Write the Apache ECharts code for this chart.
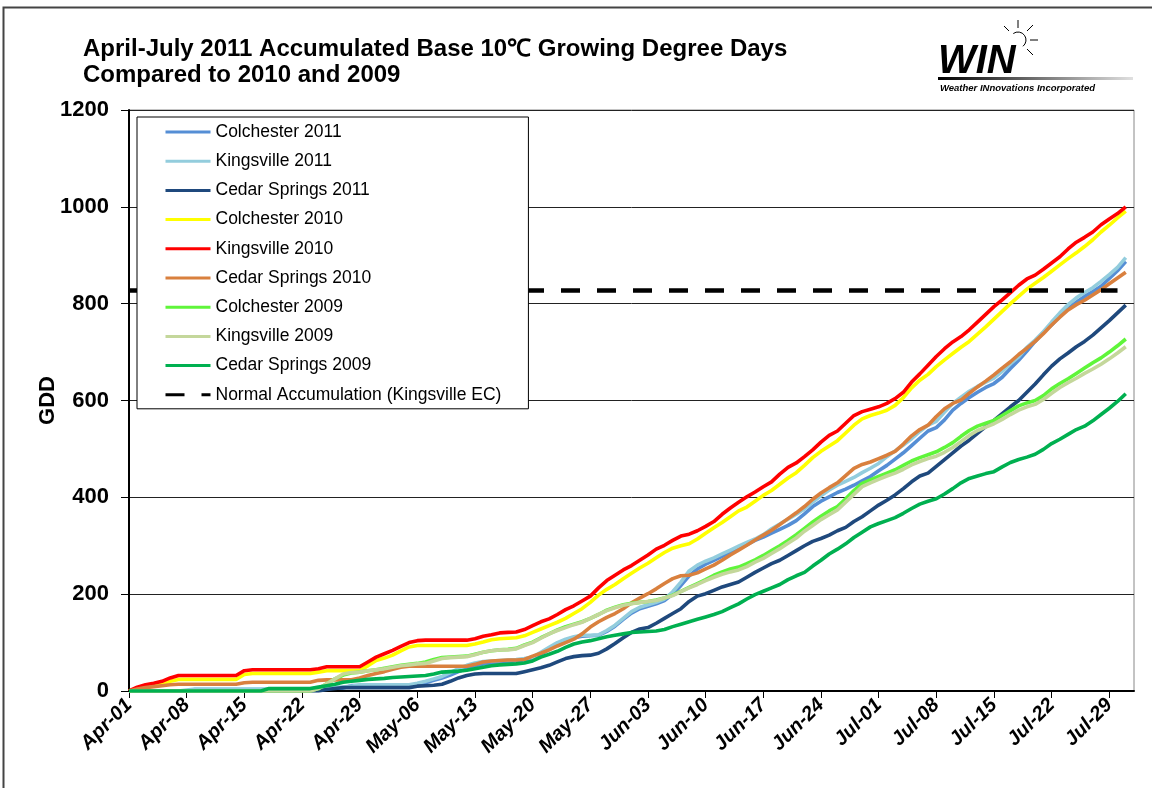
<!DOCTYPE html>
<html lang="en" style="height: 100%">
  <head>
    <meta charset="utf-8" />
    <title>GDD 2011</title>
  </head>
  <body style="height: 100%; margin: 0; background: #fff">
    <div id="container" style="width: 1152px; height: 788px"></div>

    <script
      type="text/javascript"
      src="https://fastly.jsdelivr.net/npm/echarts@6/dist/echarts.min.js"
    ></script>

    <script type="text/javascript">
      var dom = document.getElementById("container");
      var myChart = echarts.init(dom, null, { renderer: "canvas" });

      // x categories: Apr-01 .. Aug-01 (data runs to Jul-31)
      var months = [["Apr", 30], ["May", 31], ["Jun", 30], ["Jul", 31], ["Aug", 1]];
      var days = [];
      months.forEach(function (m) {
        for (var i = 1; i <= m[1]; i++) {
          days.push(m[0] + "-" + (i < 10 ? "0" + i : i));
        }
      });

      var colchester2011 = [
        0, 0, 0, 0, 0, 0, 0, 0, 3, 3,
        3, 3, 3, 3, 3, 3, 3, 3, 3, 3,
        3, 3, 3, 6, 6, 6, 6, 11, 11, 11,
        11, 11, 11, 11, 11, 14, 17, 22, 27, 33,
        40, 47, 52, 56, 58, 60, 61, 62, 64, 67,
        76, 86, 96, 104, 110, 113, 114, 115, 123, 134,
        148, 161, 170, 175, 180, 187, 200, 218, 238, 252,
        262, 270, 278, 287, 294, 302, 311, 318, 326, 334,
        342, 352, 366, 381, 392, 401, 410, 417, 425, 434,
        443, 455, 466, 479, 492, 507, 522, 537, 544, 560,
        580, 594, 606, 617, 627, 635, 648, 666, 683, 702,
        722, 741, 756, 774, 790, 803, 815, 825, 836, 852,
        868, 887
      ];
      var kingsville2011 = [
        0, 0, 0, 0, 0, 0, 0, 2, 4, 4,
        4, 4, 4, 4, 4, 4, 4, 4, 4, 4,
        4, 4, 4, 6, 8, 8, 8, 10, 13, 13,
        13, 13, 13, 13, 13, 16, 20, 25, 30, 38,
        46, 53, 58, 61, 62, 63, 64, 65, 67, 70,
        80, 90, 100, 107, 112, 115, 115, 116, 125, 136,
        150, 164, 173, 178, 183, 190, 205, 225, 248, 260,
        268, 275, 283, 291, 299, 307, 314, 323, 335, 345,
        355, 365, 376, 390, 403, 415, 425, 433, 441, 451,
        460, 470, 484, 496, 508, 521, 536, 549, 557, 576,
        594, 607, 619, 629, 638, 646, 660, 676, 690, 710,
        725, 742, 762, 781, 798, 812, 823, 833, 846, 860,
        875, 895
      ];
      var cedarSprings2011 = [
        0, 0, 0, 0, 0, 0, 0, 0, 0, 0,
        0, 0, 0, 0, 0, 0, 0, 0, 0, 0,
        0, 0, 0, 0, 3, 5, 7, 7, 7, 7,
        7, 7, 7, 7, 7, 10, 11, 12, 14, 20,
        27, 32, 35, 36, 36, 36, 36, 36, 40, 44,
        48, 53, 60, 67, 71, 73, 74, 78, 87, 98,
        110, 121, 128, 131, 140, 150, 160, 170, 185, 196,
        201, 208, 215, 220, 225, 235, 245, 254, 263, 270,
        280, 290, 300, 309, 315, 322, 331, 338, 350, 360,
        372, 384, 394, 405, 418, 432, 444, 450, 464, 478,
        492, 506, 518, 532, 546, 559, 573, 587, 600, 617,
        634, 653, 671, 686, 698, 711, 722, 735, 750, 765,
        781, 797
      ];
      var colchester2010 = [
        0, 4, 8, 11, 15, 20, 24, 24, 24, 24,
        24, 24, 24, 24, 34, 36, 36, 36, 36, 36,
        36, 36, 36, 39, 42, 42, 42, 42, 42, 52,
        63, 68, 74, 83, 91, 94, 94, 94, 94, 94,
        94, 94, 97, 101, 106, 108, 109, 110, 114, 121,
        128, 135, 142, 150, 160, 170, 183, 198, 210, 220,
        232, 243, 254, 264, 275, 286, 295, 300, 304, 314,
        326, 337, 348, 360, 372, 380, 392, 404, 414, 427,
        440, 451, 466, 482, 495, 506, 517, 533, 549, 562,
        569, 574, 580, 590, 606, 626, 642, 654, 670, 684,
        697, 710, 722, 737, 752, 768, 784, 800, 815, 830,
        842, 854, 867, 880, 893, 905, 918, 932, 948, 962,
        977, 991
      ];
      var kingsville2010 = [
        0, 8, 13, 16, 20, 27, 32, 32, 32, 32,
        32, 32, 32, 32, 42, 44, 44, 44, 44, 44,
        44, 44, 44, 46, 50, 50, 50, 50, 50, 60,
        70, 77, 84, 92, 100, 104, 105, 105, 105, 105,
        105, 105, 108, 113, 116, 120, 121, 122, 127, 135,
        143, 149, 158, 168, 176, 186, 196, 213, 228, 239,
        250, 259, 270, 281, 293, 301, 311, 320, 324, 331,
        340, 350, 365, 378, 390, 401, 411, 422, 432, 448,
        462, 471, 484, 498, 514, 528, 537, 553, 569, 577,
        582, 587, 594, 604, 617, 638, 655, 673, 691, 707,
        721, 732, 746, 762, 778, 794, 808, 823, 838, 851,
        859, 871, 884, 897, 913, 927, 937, 948, 963, 975,
        986, 1000
      ];
      var cedarSprings2010 = [
        0, 4, 7, 9, 11, 13, 14, 14, 14, 14,
        14, 14, 14, 14, 17, 18, 18, 18, 18, 18,
        18, 18, 18, 22, 23, 23, 23, 23, 27, 32,
        36, 40, 45, 49, 51, 51, 51, 51, 51, 51,
        51, 51, 55, 60, 62, 63, 64, 64, 65, 72,
        78, 85, 93, 100, 107, 118, 132, 143, 152, 160,
        170, 182, 192, 201, 211, 222, 232, 238, 239, 244,
        252, 260, 270, 281, 291, 301, 312, 322, 332, 344,
        356, 368, 381, 396, 409, 420, 430, 445, 460, 468,
        473, 480, 487, 495, 510, 527, 540, 549, 567, 583,
        594, 601, 615, 628, 640, 653, 667, 680, 695, 708,
        722, 738, 756, 772, 787, 798, 807, 818, 829, 841,
        853, 865
      ];
      var colchester2009 = [
        0, 0, 0, 0, 0, 0, 0, 0, 0, 0,
        0, 0, 0, 0, 0, 0, 0, 0, 0, 0,
        0, 0, 0, 5, 15, 25, 33, 37, 39, 42,
        44, 47, 50, 53, 55, 57, 60, 65, 69, 70,
        71, 72, 76, 80, 83, 85, 86, 88, 95, 101,
        110, 118, 126, 133, 138, 143, 150, 158, 167, 173,
        178, 181, 183, 185, 188, 192, 198, 206, 214, 222,
        230, 239, 246, 252, 256, 263, 271, 280, 290, 300,
        311, 323, 336, 349, 361, 372, 381, 397, 414, 429,
        436, 443, 450, 457, 466, 475, 482, 488, 494, 503,
        513, 526, 538, 547, 553, 559, 569, 579, 589, 595,
        600, 610, 624, 635, 645, 656, 667, 678, 688, 700,
        713, 727
      ];
      var kingsville2009 = [
        0, 0, 0, 0, 0, 0, 0, 0, 0, 0,
        0, 0, 0, 0, 0, 0, 0, 0, 0, 0,
        0, 0, 0, 5, 15, 25, 35, 38, 39, 42,
        44, 46, 49, 52, 54, 56, 57, 62, 67, 69,
        70, 71, 75, 80, 83, 85, 85, 87, 94, 100,
        109, 118, 125, 131, 137, 142, 150, 158, 166, 172,
        177, 180, 183, 185, 187, 192, 197, 205, 213, 220,
        228, 235, 241, 246, 250, 257, 266, 274, 284, 294,
        305, 316, 330, 342, 354, 364, 374, 390, 406, 422,
        430, 437, 444, 450, 458, 467, 474, 480, 485, 493,
        503, 515, 528, 538, 545, 552, 561, 571, 580, 587,
        592, 602, 615, 627, 637, 646, 656, 665, 675, 686,
        698, 711
      ];
      var cedarSprings2009 = [
        0, 0, 0, 0, 0, 0, 0, 0, 0, 0,
        0, 0, 0, 0, 0, 0, 0, 5, 5, 5,
        5, 5, 5, 8, 11, 14, 18, 20, 22, 24,
        25, 26, 28, 29, 30, 31, 32, 35, 39, 40,
        41, 43, 46, 49, 52, 54, 55, 56, 58, 62,
        70, 76, 82, 90, 97, 101, 104, 108, 112, 115,
        118, 121, 122, 123, 124, 127, 133, 138, 143, 148,
        153, 158, 164, 172, 180, 190, 199, 206, 213, 220,
        230, 238, 245, 258, 270, 283, 293, 304, 317, 328,
        339, 346, 352, 358, 367, 377, 386, 392, 397, 407,
        418, 430, 439, 444, 449, 453, 463, 472, 478, 483,
        489, 499, 511, 520, 530, 540, 547, 558, 571, 584,
        598, 614
      ];
      // normal accumulation line (Kingsville EC), flat across the season
      var normalGDD = 827;
      var normalSpan = ["Apr-01", "Jul-30"];

      var seriesDefs = [
        ["Colchester 2011", colchester2011, "#558ed5"],
        ["Kingsville 2011", kingsville2011, "#93cddd"],
        ["Cedar Springs 2011", cedarSprings2011, "#1f497d"],
        ["Colchester 2010", colchester2010, "#ffff00"],
        ["Kingsville 2010", kingsville2010, "#ff0000"],
        ["Cedar Springs 2010", cedarSprings2010, "#d9803e"],
        ["Colchester 2009", colchester2009, "#5ff53a"],
        ["Kingsville 2009", kingsville2009, "#c4d79b"],
        ["Cedar Springs 2009", cedarSprings2009, "#00b050"],
      ];

      var series = seriesDefs.map(function (s) {
        return {
          name: s[0],
          type: "line",
          data: s[1],
          symbol: "none",
          color: s[2],
          lineStyle: { width: 3.6, color: s[2] },
        };
      });
      series.push({
        name: "Normal Accumulation (Kingsville EC)",
        type: "line",
        data: normalSpan.map(function (d) {
          return [d, normalGDD];
        }),
        symbol: "none",
        color: "#000",
        lineStyle: { width: 4.5, color: "#000", type: [19, 17], cap: "butt" },
      });

      var font = '"Liberation Sans", Arial, sans-serif';

      var option = {
        animation: false,
        backgroundColor: "#fff",
        title: {
          text: "April-July 2011 Accumulated Base 10\u2103 Growing Degree Days\nCompared to 2010 and 2009",
          left: 78,
          top: 31,
          textStyle: {
            fontFamily: font,
            fontSize: 24,
            fontWeight: "bold",
            color: "#000",
            lineHeight: 26,
          },
        },
        legend: {
          orient: "vertical",
          left: 137,
          top: 117,
          backgroundColor: "#fff",
          borderColor: "#000",
          borderWidth: 1,
          borderRadius: 0,
          padding: [6, 27, 5, 27],
          itemWidth: 45,
          itemHeight: 14,
          itemGap: 11.2,
          lineStyle: { width: 3 },
          itemStyle: { opacity: 0 },
          textStyle: {
            fontFamily: font,
            fontSize: 17.5,
            lineHeight: 18,
            color: "#000",
          },
          data: series.map(function (s) {
            return s.name;
          }),
        },
        grid: {
          left: 129,
          right: 18,
          top: 110,
          bottom: 97,
          show: true,
          borderColor: "#888",
          borderWidth: 1,
        },
        xAxis: {
          type: "category",
          data: days,
          boundaryGap: false,
          axisLine: { lineStyle: { color: "#000", width: 2 } },
          axisTick: { interval: 6, length: 7, lineStyle: { color: "#000" } },
          axisLabel: {
            interval: 6,
            rotate: 45,
            margin: 11,
            fontFamily: font,
            fontSize: 20,
            fontWeight: "bold",
            fontStyle: "italic",
            color: "#000",
          },
          splitLine: { show: false },
        },
        yAxis: {
          type: "value",
          min: 0,
          max: 1200,
          interval: 200,
          name: "GDD",
          nameLocation: "middle",
          nameRotate: 90,
          nameGap: 70,
          nameMoveOverlap: false,
          nameTextStyle: {
            fontFamily: font,
            fontSize: 22,
            fontWeight: "bold",
            color: "#000",
          },
          axisLine: { show: true, lineStyle: { color: "#000", width: 2 } },
          axisTick: { show: true, length: 8, lineStyle: { color: "#000" } },
          axisLabel: {
            margin: 20,
            fontFamily: font,
            fontSize: 22,
            fontWeight: "bold",
            color: "#000",
            formatter: function (v) {
              return String(v);
            },
          },
          splitLine: { lineStyle: { color: "#222", width: 1 } },
        },
        graphic: [
          {
            type: "rect",
            shape: { x: 3.5, y: 7.5, width: 1200, height: 900 },
            style: { fill: "none", stroke: "#444", lineWidth: 2 },
            silent: true,
          },
          // WIN logo
          {
            type: "text",
            left: 938,
            top: 42,
            style: {
              text: "WIN",
              font: 'italic 900 40px "Liberation Sans", Arial, sans-serif',
              fill: "#000",
            },
          },
          {
            type: "arc",
            shape: { cx: 1018, cy: 40, r: 8, startAngle: -2.2, endAngle: 0.9 },
            style: { stroke: "#000", fill: "none", lineWidth: 1 },
          },
          { type: "line", shape: { x1: 1018, y1: 28, x2: 1018, y2: 20 }, style: { stroke: "#000", lineWidth: 1 } },
          { type: "line", shape: { x1: 1027, y1: 31, x2: 1033, y2: 25 }, style: { stroke: "#000", lineWidth: 1 } },
          { type: "line", shape: { x1: 1030, y1: 40, x2: 1038, y2: 40 }, style: { stroke: "#000", lineWidth: 1 } },
          { type: "line", shape: { x1: 1027, y1: 49, x2: 1033, y2: 55 }, style: { stroke: "#000", lineWidth: 1 } },
          { type: "line", shape: { x1: 1009, y1: 31, x2: 1004, y2: 26 }, style: { stroke: "#000", lineWidth: 1 } },
          {
            type: "rect",
            shape: { x: 938, y: 77, width: 195, height: 3 },
            style: {
              fill: new echarts.graphic.LinearGradient(0, 0, 1, 0, [
                { offset: 0, color: "#000" },
                { offset: 1, color: "#e0e0e0" },
              ]),
            },
          },
          {
            type: "text",
            left: 940,
            top: 83,
            style: {
              text: "Weather INnovations Incorporated",
              font: 'italic bold 9.5px "Liberation Sans", Arial, sans-serif',
              fill: "#000",
            },
          },
        ],
        series: series,
      };

      myChart.setOption(option);
      window.addEventListener("resize", myChart.resize);
    </script>
  </body>
</html>
